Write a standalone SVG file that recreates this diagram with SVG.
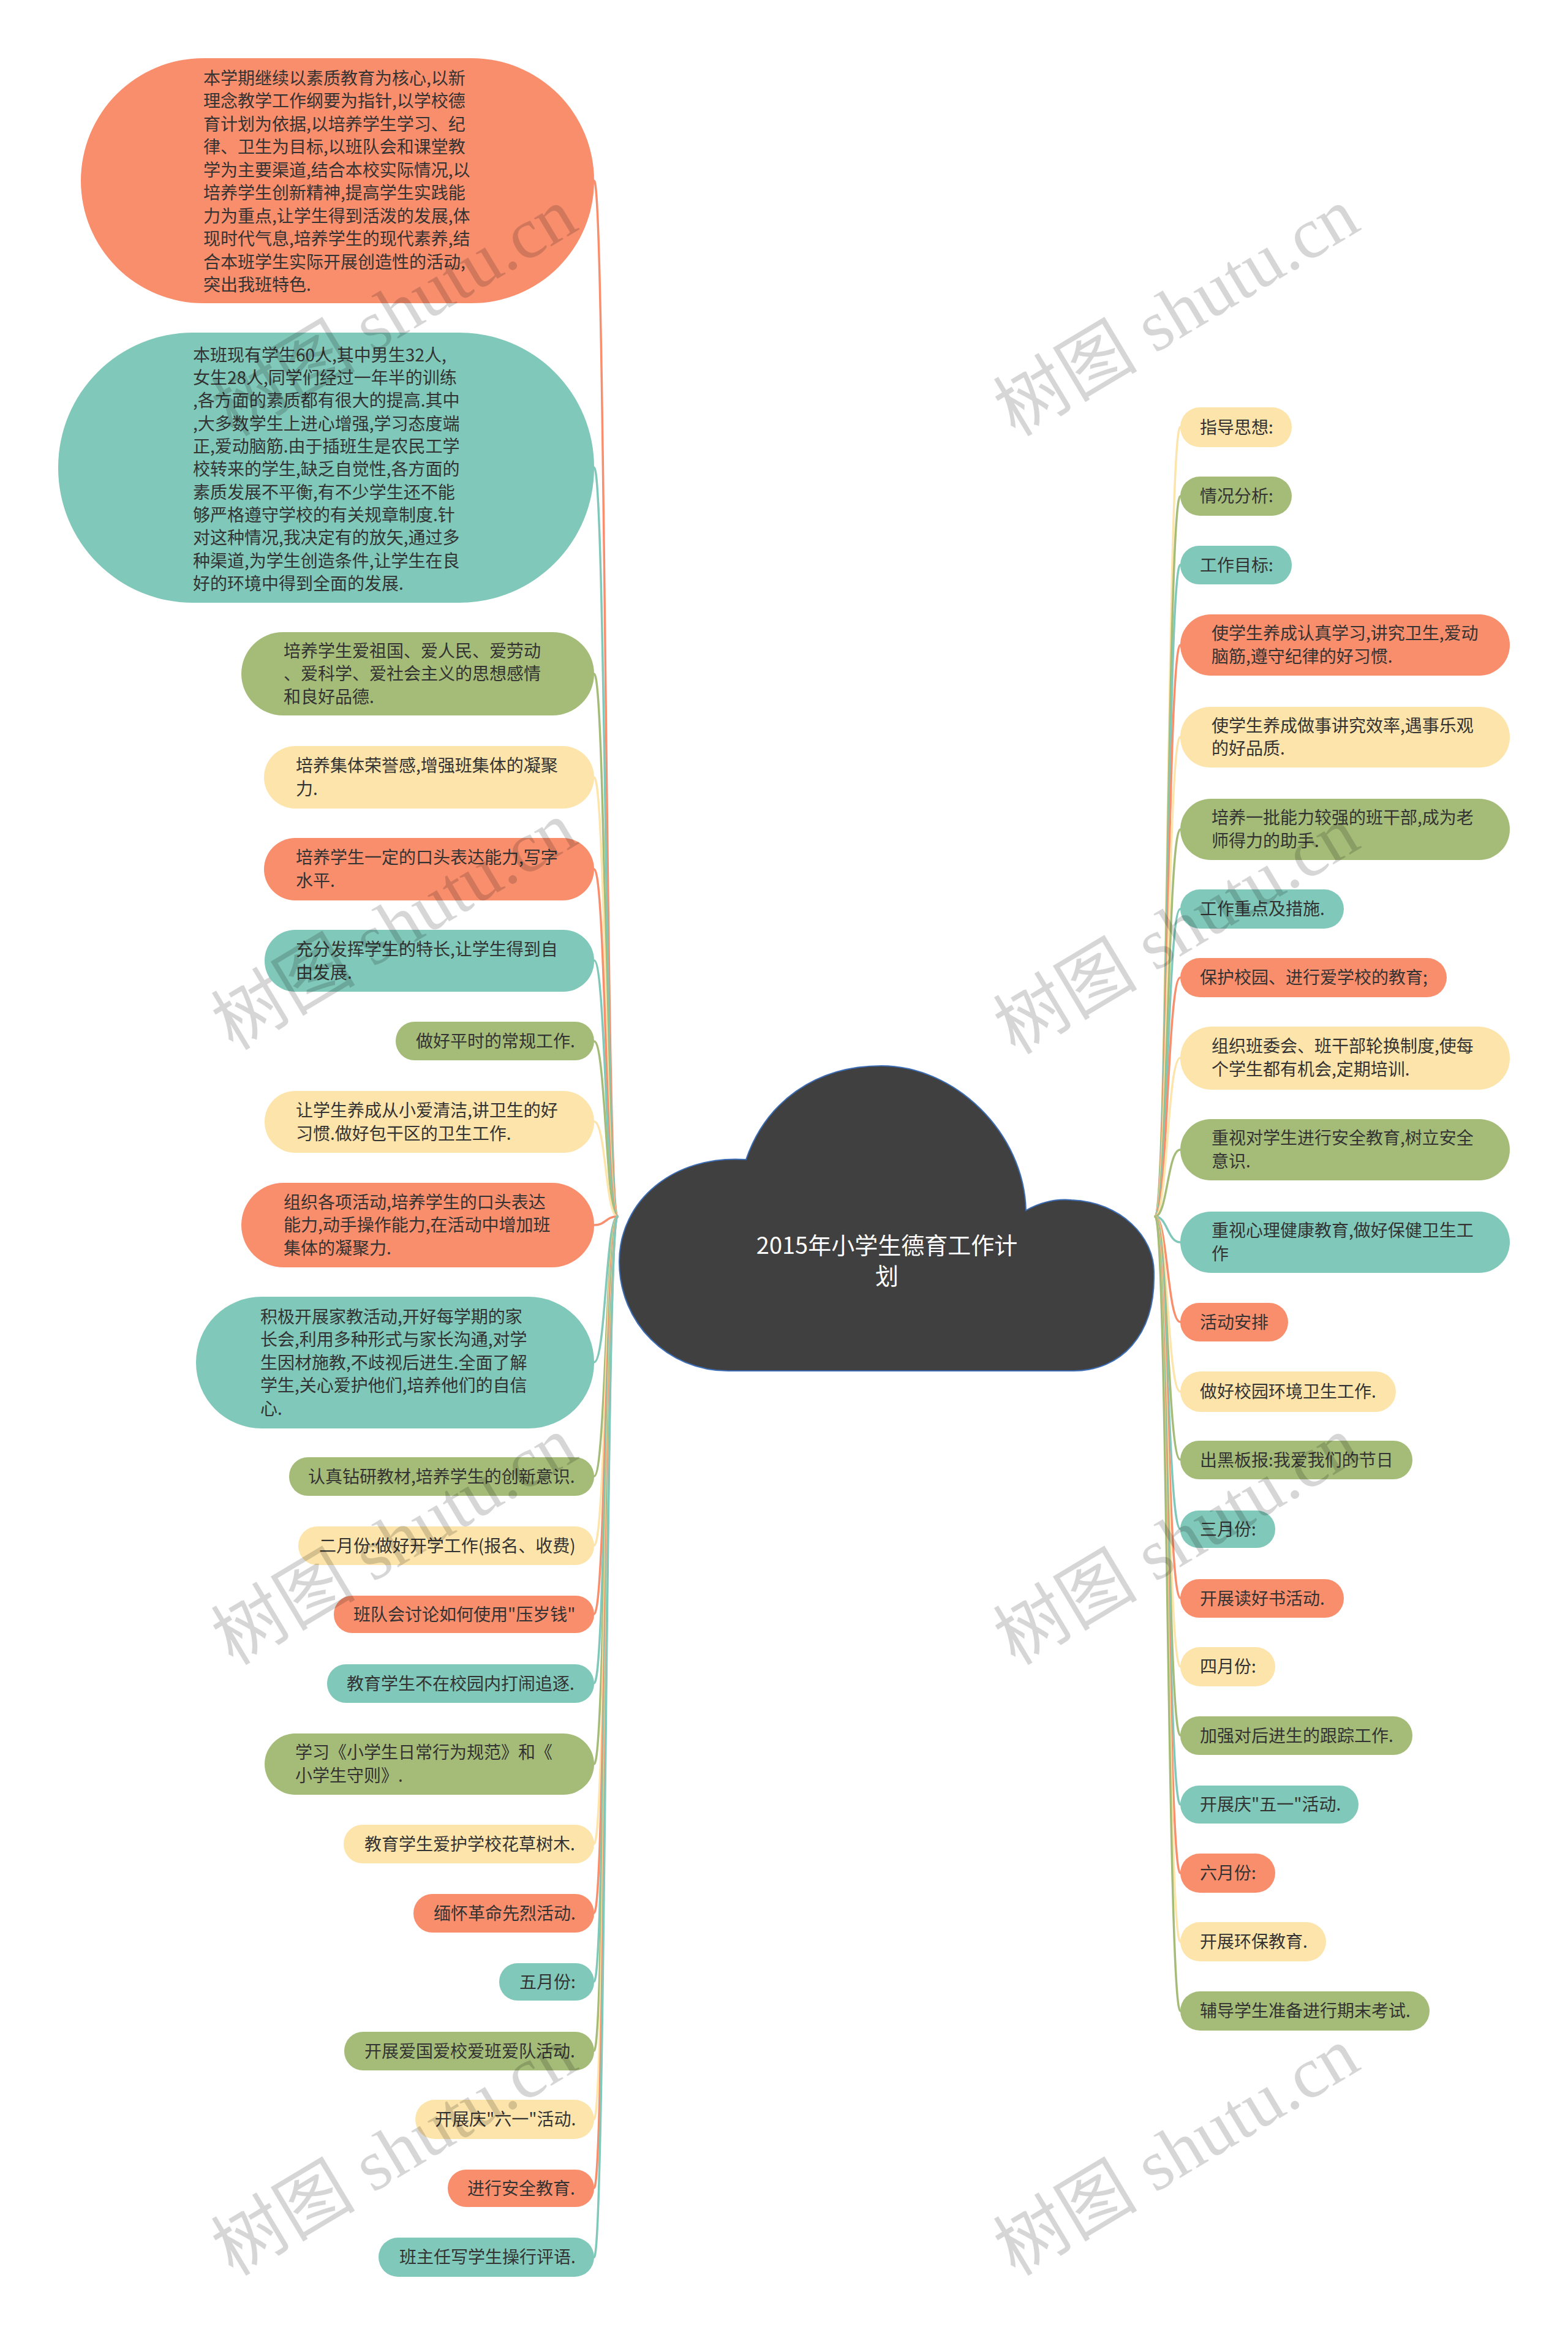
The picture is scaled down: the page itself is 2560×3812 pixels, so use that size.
<svg xmlns="http://www.w3.org/2000/svg" width="2560" height="3812" viewBox="0 0 2560 3812">
<style>
.o{fill:#F98E6D}.t{fill:#80C8B9}.g{fill:#A5BC78}.y{fill:#FDE4AB}
.lo{stroke:#F98E6D}.lt{stroke:#80C8B9}.lg{stroke:#A5BC78}.ly{stroke:#FDE4AB}
#links path{fill:none;stroke-width:3.5;stroke-linecap:round}
.node text{font-family:"Noto Sans CJK SC","Noto Sans",sans-serif;font-size:28px;fill:#333}
.wm text{font-family:"Liberation Serif","Noto Sans CJK SC",serif;font-size:118px;fill:#000;fill-opacity:0.16}
</style>
<rect width="2560" height="3812" fill="#fff"/>
<g id="links">
<path class="lo" d="M1008 1986 C989 1986 989 295 970 295"/>
<path class="lt" d="M1008 1986 C989 1986 989 763 970 763"/>
<path class="lg" d="M1008 1986 C989 1986 989 1100 970 1100"/>
<path class="ly" d="M1008 1986 C989 1986 989 1269 970 1269"/>
<path class="lo" d="M1008 1986 C989 1986 989 1419 970 1419"/>
<path class="lt" d="M1008 1986 C989 1986 989 1568 970 1568"/>
<path class="lg" d="M1008 1986 C989 1986 989 1700 970 1700"/>
<path class="ly" d="M1008 1986 C989 1986 989 1831 970 1831"/>
<path class="lo" d="M1008 1986 C989 1986 989 2000 970 2000"/>
<path class="lt" d="M1008 1986 C989 1986 989 2224 970 2224"/>
<path class="lg" d="M1008 1986 C989 1986 989 2410 970 2410"/>
<path class="ly" d="M1008 1986 C989 1986 989 2523 970 2523"/>
<path class="lo" d="M1008 1986 C989 1986 989 2635 970 2635"/>
<path class="lt" d="M1008 1986 C989 1986 989 2748 970 2748"/>
<path class="lg" d="M1008 1986 C989 1986 989 2880 970 2880"/>
<path class="ly" d="M1008 1986 C989 1986 989 3010 970 3010"/>
<path class="lo" d="M1008 1986 C989 1986 989 3123 970 3123"/>
<path class="lt" d="M1008 1986 C989 1986 989 3235 970 3235"/>
<path class="lg" d="M1008 1986 C989 1986 989 3348 970 3348"/>
<path class="ly" d="M1008 1986 C989 1986 989 3460 970 3460"/>
<path class="lo" d="M1008 1986 C989 1986 989 3572 970 3572"/>
<path class="lt" d="M1008 1986 C989 1986 989 3685 970 3685"/>
<path class="ly" d="M1886 1986 C1906 1986 1906 697 1927 697"/>
<path class="lg" d="M1886 1986 C1906 1986 1906 810 1927 810"/>
<path class="lt" d="M1886 1986 C1906 1986 1906 922 1927 922"/>
<path class="lo" d="M1886 1986 C1906 1986 1906 1053 1927 1053"/>
<path class="ly" d="M1886 1986 C1906 1986 1906 1203 1927 1203"/>
<path class="lg" d="M1886 1986 C1906 1986 1906 1354 1927 1354"/>
<path class="lt" d="M1886 1986 C1906 1986 1906 1484 1927 1484"/>
<path class="lo" d="M1886 1986 C1906 1986 1906 1596 1927 1596"/>
<path class="ly" d="M1886 1986 C1906 1986 1906 1727 1927 1727"/>
<path class="lg" d="M1886 1986 C1906 1986 1906 1877 1927 1877"/>
<path class="lt" d="M1886 1986 C1906 1986 1906 2028 1927 2028"/>
<path class="lo" d="M1886 1986 C1906 1986 1906 2158 1927 2158"/>
<path class="ly" d="M1886 1986 C1906 1986 1906 2272 1927 2272"/>
<path class="lg" d="M1886 1986 C1906 1986 1906 2383 1927 2383"/>
<path class="lt" d="M1886 1986 C1906 1986 1906 2496 1927 2496"/>
<path class="lo" d="M1886 1986 C1906 1986 1906 2609 1927 2609"/>
<path class="ly" d="M1886 1986 C1906 1986 1906 2721 1927 2721"/>
<path class="lg" d="M1886 1986 C1906 1986 1906 2833 1927 2833"/>
<path class="lt" d="M1886 1986 C1906 1986 1906 2946 1927 2946"/>
<path class="lo" d="M1886 1986 C1906 1986 1906 3058 1927 3058"/>
<path class="ly" d="M1886 1986 C1906 1986 1906 3170 1927 3170"/>
<path class="lg" d="M1886 1986 C1906 1986 1906 3283 1927 3283"/>
</g>
<g id="center">
<path d="M1218 1893 C1250 1800 1330 1740 1439 1740 C1560 1740 1672 1850 1675 1976 C1700 1962 1725 1957 1749 1959 C1830 1962 1886 2020 1884 2080 C1886 2180 1830 2238 1752 2238 L1189 2238 C1090 2238 1011 2160 1011 2060 C1011 1960 1100 1885 1218 1893 Z" fill="#404040" stroke="#3B6CB4" stroke-width="2"/>
<text font-family="'Noto Sans CJK SC',sans-serif" font-size="38" fill="#fff" text-anchor="middle"><tspan x="1448" y="2047">2015年小学生德育工作计</tspan><tspan x="1448" y="2097">划</tspan></text>
</g>
<g class="node" id="L1"><rect class="o" x="132" y="95" width="838" height="400" rx="200"/><text><tspan x="332" y="138">本学期继续以素质教育为核心,以新</tspan><tspan x="332" y="175">理念教学工作纲要为指针,以学校德</tspan><tspan x="332" y="213">育计划为依据,以培养学生学习、纪</tspan><tspan x="332" y="250">律、卫生为目标,以班队会和课堂教</tspan><tspan x="332" y="288">学为主要渠道,结合本校实际情况,以</tspan><tspan x="332" y="325">培养学生创新精神,提高学生实践能</tspan><tspan x="332" y="363">力为重点,让学生得到活泼的发展,体</tspan><tspan x="332" y="400">现时代气息,培养学生的现代素养,结</tspan><tspan x="332" y="438">合本班学生实际开展创造性的活动,</tspan><tspan x="332" y="475">突出我班特色.</tspan></text></g>
<g class="node" id="L2"><rect class="t" x="95" y="543" width="875" height="441" rx="220"/><text><tspan x="315" y="590">本班现有学生60人,其中男生32人,</tspan><tspan x="315" y="627">女生28人,同学们经过一年半的训练</tspan><tspan x="315" y="664">,各方面的素质都有很大的提高.其中</tspan><tspan x="315" y="702">,大多数学生上进心增强,学习态度端</tspan><tspan x="315" y="739">正,爱动脑筋.由于插班生是农民工学</tspan><tspan x="315" y="776">校转来的学生,缺乏自觉性,各方面的</tspan><tspan x="315" y="814">素质发展不平衡,有不少学生还不能</tspan><tspan x="315" y="851">够严格遵守学校的有关规章制度.针</tspan><tspan x="315" y="888">对这种情况,我决定有的放矢,通过多</tspan><tspan x="315" y="926">种渠道,为学生创造条件,让学生在良</tspan><tspan x="315" y="963">好的环境中得到全面的发展.</tspan></text></g>
<g class="node" id="L3"><rect class="g" x="394" y="1032" width="576" height="136" rx="68"/><text><tspan x="463" y="1073">培养学生爱祖国、爱人民、爱劳动</tspan><tspan x="463" y="1110">、爱科学、爱社会主义的思想感情</tspan><tspan x="463" y="1148">和良好品德.</tspan></text></g>
<g class="node" id="L4"><rect class="y" x="431" y="1218" width="539" height="102" rx="51"/><text><tspan x="483" y="1260">培养集体荣誉感,增强班集体的凝聚</tspan><tspan x="483" y="1298">力.</tspan></text></g>
<g class="node" id="L5"><rect class="o" x="431" y="1368" width="539" height="102" rx="51"/><text><tspan x="483" y="1410">培养学生一定的口头表达能力,写字</tspan><tspan x="483" y="1448">水平.</tspan></text></g>
<g class="node" id="L6"><rect class="t" x="432" y="1518" width="538" height="101" rx="50"/><text><tspan x="483" y="1560">充分发挥学生的特长,让学生得到自</tspan><tspan x="483" y="1598">由发展.</tspan></text></g>
<g class="node" id="L7"><rect class="g" x="646" y="1668" width="324" height="63" rx="31"/><text x="679" y="1710">做好平时的常规工作.</text></g>
<g class="node" id="L8"><rect class="y" x="432" y="1781" width="538" height="101" rx="50"/><text><tspan x="483" y="1823">让学生养成从小爱清洁,讲卫生的好</tspan><tspan x="483" y="1861">习惯.做好包干区的卫生工作.</tspan></text></g>
<g class="node" id="L9"><rect class="o" x="394" y="1931" width="576" height="138" rx="69"/><text><tspan x="463" y="1973">组织各项活动,培养学生的口头表达</tspan><tspan x="463" y="2010">能力,动手操作能力,在活动中增加班</tspan><tspan x="463" y="2048">集体的凝聚力.</tspan></text></g>
<g class="node" id="L10"><rect class="t" x="320" y="2117" width="650" height="215" rx="107"/><text><tspan x="425" y="2160">积极开展家教活动,开好每学期的家</tspan><tspan x="425" y="2197">长会,利用多种形式与家长沟通,对学</tspan><tspan x="425" y="2235">生因材施教,不歧视后进生.全面了解</tspan><tspan x="425" y="2272">学生,关心爱护他们,培养他们的自信</tspan><tspan x="425" y="2310">心.</tspan></text></g>
<g class="node" id="L11"><rect class="g" x="472" y="2379" width="498" height="63" rx="31"/><text x="503" y="2421">认真钻研教材,培养学生的创新意识.</text></g>
<g class="node" id="L12"><rect class="y" x="487" y="2492" width="483" height="63" rx="31"/><text x="521" y="2534">二月份:做好开学工作(报名、收费)</text></g>
<g class="node" id="L13"><rect class="o" x="545" y="2605" width="425" height="61" rx="30"/><text x="577" y="2646">班队会讨论如何使用"压岁钱"</text></g>
<g class="node" id="L14"><rect class="t" x="534" y="2717" width="436" height="63" rx="31"/><text x="566" y="2759">教育学生不在校园内打闹追逐.</text></g>
<g class="node" id="L15"><rect class="g" x="432" y="2830" width="538" height="100" rx="50"/><text><tspan x="482" y="2871">学习《小学生日常行为规范》和《</tspan><tspan x="482" y="2909">小学生守则》.</tspan></text></g>
<g class="node" id="L16"><rect class="y" x="561" y="2979" width="409" height="63" rx="31"/><text x="595" y="3021">教育学生爱护学校花草树木.</text></g>
<g class="node" id="L17"><rect class="o" x="675" y="3092" width="295" height="63" rx="31"/><text x="708" y="3134">缅怀革命先烈活动.</text></g>
<g class="node" id="L18"><rect class="t" x="815" y="3205" width="155" height="61" rx="30"/><text x="848" y="3246">五月份:</text></g>
<g class="node" id="L19"><rect class="g" x="562" y="3317" width="408" height="63" rx="31"/><text x="595" y="3359">开展爱国爱校爱班爱队活动.</text></g>
<g class="node" id="L20"><rect class="y" x="678" y="3428" width="292" height="64" rx="32"/><text x="710" y="3470">开展庆"六一"活动.</text></g>
<g class="node" id="L21"><rect class="o" x="731" y="3542" width="239" height="61" rx="30"/><text x="763" y="3583">进行安全教育.</text></g>
<g class="node" id="L22"><rect class="t" x="618" y="3653" width="352" height="64" rx="32"/><text x="652" y="3695">班主任写学生操行评语.</text></g>
<g class="node" id="R1"><rect class="y" x="1927" y="665" width="182" height="65" rx="32"/><text x="1959" y="708">指导思想:</text></g>
<g class="node" id="R2"><rect class="g" x="1927" y="778" width="182" height="64" rx="32"/><text x="1959" y="820">情况分析:</text></g>
<g class="node" id="R3"><rect class="t" x="1927" y="891" width="182" height="63" rx="31"/><text x="1959" y="933">工作目标:</text></g>
<g class="node" id="R4"><rect class="o" x="1927" y="1003" width="538" height="100" rx="50"/><text><tspan x="1978" y="1044">使学生养成认真学习,讲究卫生,爱动</tspan><tspan x="1978" y="1082">脑筋,遵守纪律的好习惯.</tspan></text></g>
<g class="node" id="R5"><rect class="y" x="1927" y="1154" width="538" height="99" rx="49"/><text><tspan x="1978" y="1195">使学生养成做事讲究效率,遇事乐观</tspan><tspan x="1978" y="1232">的好品质.</tspan></text></g>
<g class="node" id="R6"><rect class="g" x="1927" y="1304" width="538" height="100" rx="50"/><text><tspan x="1978" y="1345">培养一批能力较强的班干部,成为老</tspan><tspan x="1978" y="1383">师得力的助手.</tspan></text></g>
<g class="node" id="R7"><rect class="t" x="1927" y="1452" width="267" height="64" rx="32"/><text x="1959" y="1494">工作重点及措施.</text></g>
<g class="node" id="R8"><rect class="o" x="1927" y="1564" width="435" height="64" rx="32"/><text x="1959" y="1606">保护校园、进行爱学校的教育;</text></g>
<g class="node" id="R9"><rect class="y" x="1927" y="1676" width="538" height="103" rx="51"/><text><tspan x="1978" y="1718">组织班委会、班干部轮换制度,使每</tspan><tspan x="1978" y="1756">个学生都有机会,定期培训.</tspan></text></g>
<g class="node" id="R10"><rect class="g" x="1927" y="1827" width="538" height="100" rx="50"/><text><tspan x="1978" y="1868">重视对学生进行安全教育,树立安全</tspan><tspan x="1978" y="1906">意识.</tspan></text></g>
<g class="node" id="R11"><rect class="t" x="1927" y="1978" width="538" height="100" rx="50"/><text><tspan x="1978" y="2019">重视心理健康教育,做好保健卫生工</tspan><tspan x="1978" y="2057">作</tspan></text></g>
<g class="node" id="R12"><rect class="o" x="1927" y="2127" width="176" height="63" rx="31"/><text x="1959" y="2169">活动安排</text></g>
<g class="node" id="R13"><rect class="y" x="1927" y="2239" width="352" height="66" rx="33"/><text x="1959" y="2282">做好校园环境卫生工作.</text></g>
<g class="node" id="R14"><rect class="g" x="1927" y="2352" width="379" height="63" rx="31"/><text x="1959" y="2394">出黑板报:我爱我们的节日</text></g>
<g class="node" id="R15"><rect class="t" x="1927" y="2466" width="155" height="61" rx="30"/><text x="1959" y="2507">三月份:</text></g>
<g class="node" id="R16"><rect class="o" x="1927" y="2578" width="267" height="63" rx="31"/><text x="1959" y="2620">开展读好书活动.</text></g>
<g class="node" id="R17"><rect class="y" x="1927" y="2689" width="155" height="64" rx="32"/><text x="1959" y="2731">四月份:</text></g>
<g class="node" id="R18"><rect class="g" x="1927" y="2802" width="379" height="63" rx="31"/><text x="1959" y="2844">加强对后进生的跟踪工作.</text></g>
<g class="node" id="R19"><rect class="t" x="1927" y="2915" width="291" height="62" rx="31"/><text x="1959" y="2956">开展庆"五一"活动.</text></g>
<g class="node" id="R20"><rect class="o" x="1927" y="3026" width="155" height="64" rx="32"/><text x="1959" y="3068">六月份:</text></g>
<g class="node" id="R21"><rect class="y" x="1927" y="3138" width="238" height="64" rx="32"/><text x="1959" y="3180">开展环保教育.</text></g>
<g class="node" id="R22"><rect class="g" x="1927" y="3251" width="407" height="64" rx="32"/><text x="1959" y="3293">辅导学生准备进行期末考试.</text></g>
<g class="wm" id="watermarks">
<text transform="translate(644 510) rotate(-31)" text-anchor="middle" dominant-baseline="central">树图 shutu.cn</text>
<text transform="translate(1921 510) rotate(-31)" text-anchor="middle" dominant-baseline="central">树图 shutu.cn</text>
<text transform="translate(644 1512) rotate(-31)" text-anchor="middle" dominant-baseline="central">树图 shutu.cn</text>
<text transform="translate(1921 1519) rotate(-31)" text-anchor="middle" dominant-baseline="central">树图 shutu.cn</text>
<text transform="translate(644 2516) rotate(-31)" text-anchor="middle" dominant-baseline="central">树图 shutu.cn</text>
<text transform="translate(1921 2516) rotate(-31)" text-anchor="middle" dominant-baseline="central">树图 shutu.cn</text>
<text transform="translate(644 3513) rotate(-31)" text-anchor="middle" dominant-baseline="central">树图 shutu.cn</text>
<text transform="translate(1921 3513) rotate(-31)" text-anchor="middle" dominant-baseline="central">树图 shutu.cn</text>
</g>
</svg>
